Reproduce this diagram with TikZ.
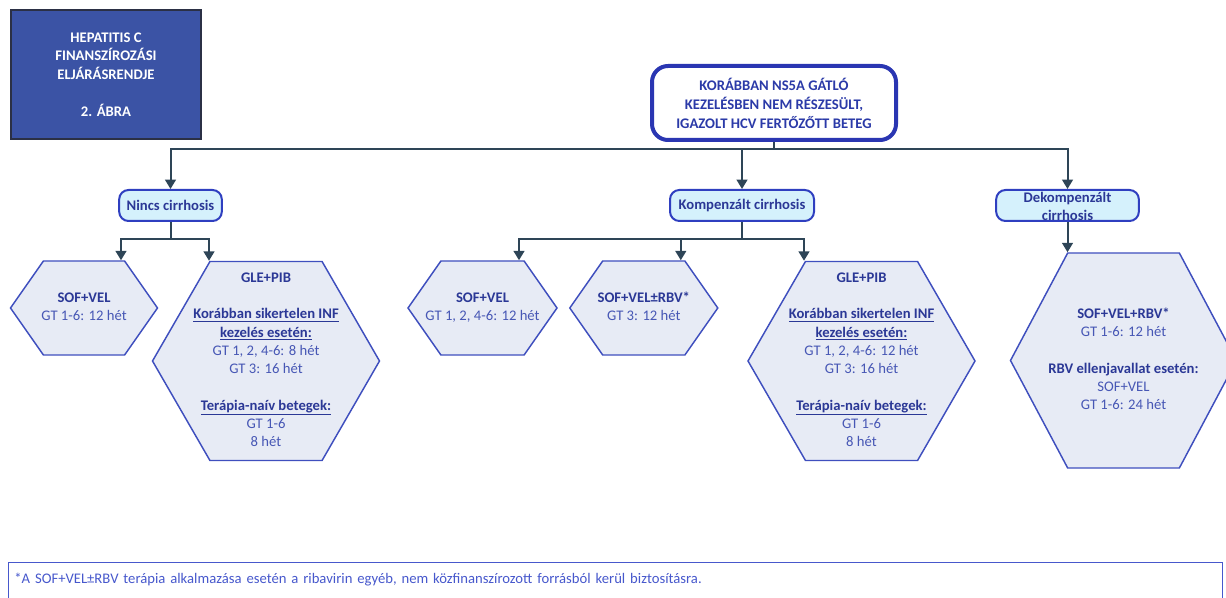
\documentclass[tikz,border=0pt]{standalone}
\usepackage{fontspec}
\setmainfont{Carlito}
\usepackage{tikz}
\usetikzlibrary{shapes.symbols, arrows.meta, positioning, calc}
\usepackage{xcolor}
\definecolor{titlebg}{HTML}{3B53A5}
\definecolor{titleframe}{HTML}{2B3045}
\definecolor{rootline}{HTML}{2A36B2}
\definecolor{roottxt}{HTML}{2B3AA8}
\definecolor{cirbg}{HTML}{D5F1FC}
\definecolor{cirline}{HTML}{2F3FC0}
\definecolor{hexbg}{HTML}{E7EBF5}
\definecolor{hexline}{HTML}{3F4FBE}
\definecolor{boldtxt}{HTML}{2B3896}
\definecolor{normtxt}{HTML}{4757B5}
\definecolor{linkcol}{HTML}{2E4557}
\definecolor{notecol}{HTML}{4758CC}
\tikzstyle{headbox} = [rectangle, draw=titleframe, line width=0.8pt, fill=titlebg, text=white,
    minimum width=142.5pt, minimum height=96.75pt, align=center,
    font=\fontsize{11}{13.8}\selectfont\bfseries]
\tikzstyle{rootbox} = [rectangle, rounded corners=12pt, draw=rootline, line width=3pt, fill=white,
    minimum width=183pt, minimum height=55.5pt, align=center, text=roottxt,
    font=\fontsize{11}{14.25}\selectfont\bfseries]
\tikzstyle{cirbox} = [rectangle, rounded corners=7pt, draw=cirline, line width=1.5pt, fill=cirbg,
    minimum height=23.25pt, align=center, text=boldtxt, inner sep=1pt,
    font=\fontsize{11}{13.5}\selectfont\bfseries]
\tikzstyle{hexsmall} = [signal, signal to=east and west, signal pointer angle=110, draw=hexline,
    line width=1.1pt, fill=hexbg, minimum height=70.5pt, text=normtxt,
    inner sep=1pt, font=\fontsize{11}{13.7}\selectfont]
\tikzstyle{hexbig} = [hexsmall, signal pointer angle=120, minimum width=170.25pt, minimum height=149.25pt]
\tikzstyle{notebox} = [rectangle, draw=notecol, line width=1.1pt, anchor=north west,
    minimum width=910.5pt, text width=902pt, align=left, inner xsep=3pt, inner ysep=4pt,
    text height=11.5pt, text depth=30pt, text=notecol, font=\fontsize{11}{13}\selectfont]
\tikzstyle{line} = [draw=linkcol, line width=1.5pt]
\tikzstyle{arrow} = [line, -{Triangle[length=7pt, width=8pt]}]
\newcommand{\rxname}[1]{{\bfseries\color{boldtxt}#1}}
\newcommand{\rxcase}[1]{{\bfseries\color{boldtxt}\underline{#1}}}
\newcommand{\gap}{\\[13.7pt]}
% text of a hexagon takes no width, so the shape keeps its own size
\newcommand{\hexlines}[1]{\makebox[0pt]{\begin{tabular}{@{}c@{}}#1\end{tabular}}}

\begin{document}
\begin{tikzpicture}[x=0.75pt, y=-0.75pt]
\useasboundingbox (0,0) rectangle (1226,598);
\node (title) [headbox] at (106,74.5) {HEPATITIS C\\FINANSZÍROZÁSI\\ELJÁRÁSRENDJE\\[13.8pt]2. ÁBRA};
\node (root) [rootbox] at (774,103) {KORÁBBAN NS5A GÁTLÓ\\KEZELÉSBEN NEM RÉSZESÜLT,\\IGAZOLT HCV FERTŐZŐTT BETEG};

% cirrhosis status
\node (nincs) [cirbox, minimum width=77pt] at (170.5,205.5) {Nincs cirrhosis};
\node (kompenz) [cirbox, minimum width=108pt] at (742,205.5) {Kompenzált cirrhosis};
\node (dekomp) [cirbox, minimum width=107pt] at (1067.5,205.5)
    {\smash{\raisebox{-4.5pt}{\begin{tabular}{@{}c@{}}Dekompenzált\\cirrhosis\end{tabular}}}};

% therapies
\node (sv1) [hexsmall, minimum width=110.25pt] at (84,308) {\hexlines{\rxname{SOF+VEL}\\GT 1-6: 12 hét}};
\node (gp1) [hexbig] at (266,361) {\hexlines{\rxname{GLE+PIB}\gap\rxcase{Korábban sikertelen INF}\\\rxcase{kezelés esetén:}\\GT 1, 2, 4-6: 8 hét\\GT 3: 16 hét\gap\rxcase{Terápia-naív betegek:}\\GT 1-6\\8 hét}};
\node (sv2) [hexsmall, minimum width=111.75pt] at (482.5,308) {\hexlines{\rxname{SOF+VEL}\\GT 1, 2, 4-6: 12 hét}};
\node (svr) [hexsmall, minimum width=111pt, right=8.25pt of sv2] {\hexlines{\rxname{SOF+VEL±RBV*}\\GT 3: 12 hét}};
\node (gp2) [hexbig] at (861.5,361) {\hexlines{\rxname{GLE+PIB}\gap\rxcase{Korábban sikertelen INF}\\\rxcase{kezelés esetén:}\\GT 1, 2, 4-6: 12 hét\\GT 3: 16 hét\gap\rxcase{Terápia-naív betegek:}\\GT 1-6\\8 hét}};
\node (svrb) [hexbig, signal pointer angle=124, minimum width=169.5pt, minimum height=161.25pt] at (1123.5,360.5)
    {\hexlines{\rxname{SOF+VEL+RBV*}\\GT 1-6: 12 hét\gap\rxname{RBV ellenjavallat esetén:}\\SOF+VEL\\GT 1-6: 24 hét}};

\node (note) [notebox] at (8,562) {*A SOF+VEL±RBV terápia alkalmazása esetén a ribavirin egyéb, nem közfinanszírozott forrásból kerül biztosításra.};

% connectors
\coordinate (bus) at ($(root.south)+(0,7)$);
\coordinate (nsplit) at ($(nincs.south)+(0,17)$);
\coordinate (ksplit) at ($(kompenz.south)+(0,17)$);
\draw[arrow] (root.south) -- (bus) -| (nincs.north);
\draw[arrow] (bus) -| (kompenz.north);
\draw[arrow] (bus) -| (dekomp.north);
\draw[arrow] (nincs.south) -- (nsplit) -| ($(sv1.north)+(37,0)$);
\draw[arrow] (nsplit) -| ($(gp1.north)+(-57,0)$);
\draw[arrow] (kompenz.south) -- (ksplit) -| ($(sv2.north)+(36.5,0)$);
\draw[arrow] (ksplit) -| ($(svr.north)+(37,0)$);
\draw[arrow] (ksplit) -| ($(gp2.north)+(-57.5,0)$);
\draw[arrow] (dekomp.south) -- (dekomp.south |- svrb.north);
\end{tikzpicture}
\end{document}
